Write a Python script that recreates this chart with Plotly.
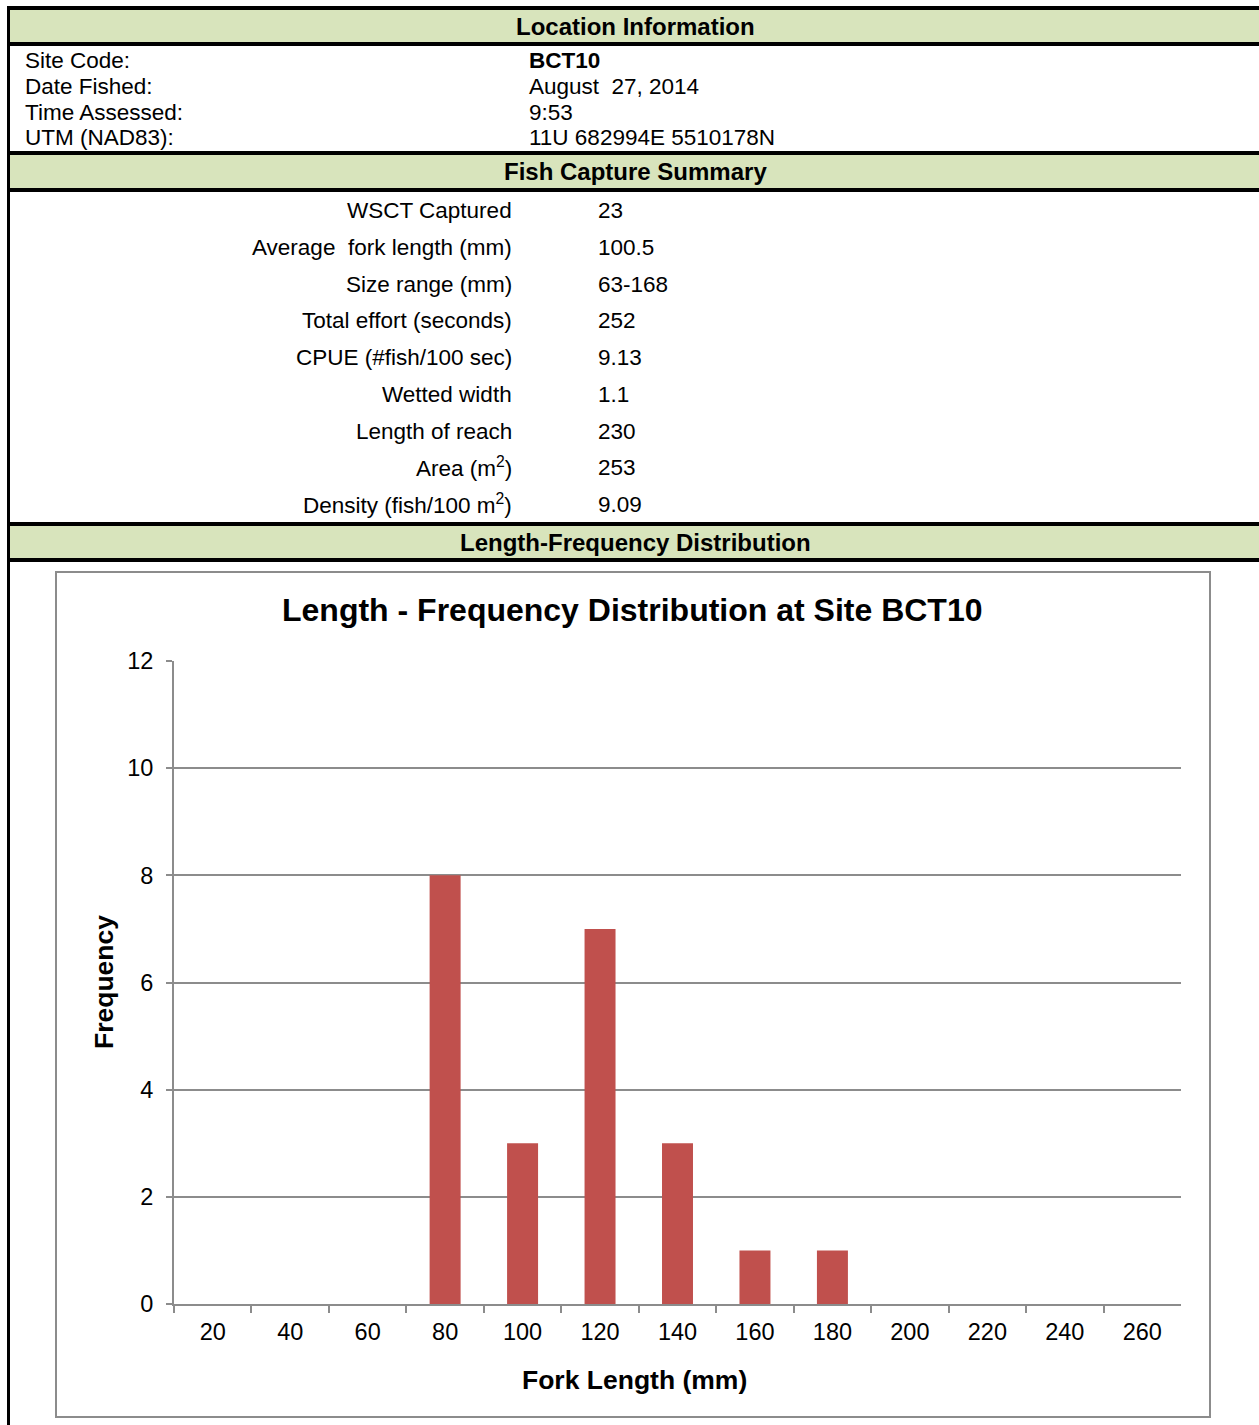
import plotly.graph_objects as go

W, H = 1259, 1425

# ---------------- data ----------------
loc_labels = ["Site Code:", "Date Fished:", "Time Assessed:", "UTM (NAD83):"]
loc_values = ["<b>BCT10</b>", "August  27, 2014", "9:53", "11U 682994E 5510178N"]

sum_labels = ["WSCT Captured", "Average  fork length (mm)", "Size range (mm)",
              "Total effort (seconds)", "CPUE (#fish/100 sec)", "Wetted width",
              "Length of reach", "Area (m<sup>2</sup>)", "Density (fish/100 m<sup>2</sup>)"]
sum_values = ["23", "100.5", "63-168", "252", "9.13", "1.1", "230", "253", "9.09"]

length_bins = ["20", "40", "60", "80", "100", "120", "140", "160", "180",
               "200", "220", "240", "260"]
frequency = [0, 0, 0, 8, 3, 7, 3, 1, 1, 0, 0, 0, 0]

chart_title = "Length - Frequency Distribution at Site BCT10"
x_title = "Fork Length (mm)"
y_title = "Frequency"

FONT = "Arial, Liberation Sans, sans-serif"
GREEN = "#d8e4bc"
GRID = "#8c8c8c"
BAR = "#c0504d"


def px(x):
    return x / W


def py(y):
    return 1 - y / H


fig = go.Figure()
fig.add_trace(go.Bar(x=length_bins, y=frequency, marker=dict(color=BAR, line=dict(width=0)),
                     hoverinfo="x+y"))

shapes = []
annotations = []


def rect(x0, y0, x1, y1, fill, layer="below", line=None):
    d = dict(type="rect", xref="paper", yref="paper", x0=px(x0), x1=px(x1),
             y0=py(y1), y1=py(y0), fillcolor=fill, layer=layer,
             line=line if line else dict(width=0))
    shapes.append(d)


# green header fills
for (a, b) in [(10, 42), (155, 188), (526, 558)]:
    rect(10, a, W, b, GREEN)
# black rules
for (a, b) in [(6, 10), (42, 46), (151, 155), (188, 192), (522, 526), (558, 562)]:
    rect(7, a, W, b, "black", layer="above")
rect(7, 6, 10, H, "black", layer="above")
# chart box
shapes.append(dict(type="rect", xref="paper", yref="paper", x0=px(56), x1=px(1210),
                   y0=py(1417), y1=py(572), fillcolor="rgba(0,0,0,0)", layer="below",
                   line=dict(color=GRID, width=2)))


def text(x, y, s, size=22, bold=False, xanchor="left", color="black", angle=0):
    annotations.append(dict(xref="paper", yref="paper", x=px(x), y=py(y),
                            text=("<b>%s</b>" % s) if bold else s, showarrow=False,
                            xanchor=xanchor, yanchor="middle", textangle=angle,
                            font=dict(family=FONT, size=size, color=color)))


# headers
text(635, 26, "Location Information", size=24, bold=True, xanchor="center")
text(635, 172, "Fish Capture Summary", size=24, bold=True, xanchor="center")
text(635, 543, "Length-Frequency Distribution", size=24, bold=True, xanchor="center")

loc_y = [60, 86, 112, 138]
for lab, val, yy in zip(loc_labels, loc_values, loc_y):
    text(23, yy, lab, size=22.5)
    text(527, yy, val, size=22.5)

sum_y = [210, 247, 284, 320, 357, 394, 431, 467, 504]
for lab, val, yy in zip(sum_labels, sum_values, sum_y):
    text(514, yy, lab, size=22.5, xanchor="right")
    text(596, yy, val, size=22.5)

# chart titles
text(632, 610, chart_title, size=32, bold=True, xanchor="center")
text(634, 1380, x_title, size=26.5, bold=True, xanchor="center")
text(104, 982, y_title, size=26.5, bold=True, xanchor="center", angle=-90)

fig.update_layout(
    width=W, height=H,
    autosize=False,
    margin=dict(l=0, r=0, t=0, b=0, pad=0, autoexpand=False),
    paper_bgcolor="white", plot_bgcolor="white",
    showlegend=False,
    bargap=0.6,
    shapes=shapes,
    annotations=annotations,
    font=dict(family=FONT, color="black"),
    xaxis=dict(domain=[px(174), px(1181)], type="category", tickson="boundaries",
               automargin=False,
               ticks="outside", ticklen=7, tickcolor=GRID, tickwidth=2,
               showline=True, linecolor=GRID, linewidth=2, showgrid=False,
               tickfont=dict(size=23.5, family=FONT, color="black"),
               ticklabelstandoff=6, fixedrange=True),
    yaxis=dict(domain=[py(1304), py(661)], range=[0, 12], dtick=2,
               automargin=False,
               ticks="outside", ticklen=6, tickcolor=GRID, tickwidth=2,
               showline=True, linecolor=GRID, linewidth=2,
               showgrid=True, gridcolor=GRID, gridwidth=1.5, zeroline=False,
               tickfont=dict(size=23.5, family=FONT, color="black"),
               ticklabelstandoff=8, fixedrange=True),
)

fig.write_html(
    "out.html",
    config={"displayModeBar": False},
    post_script="document.body.style.margin='0';document.body.style.padding='0';"
                "document.body.style.overflow='hidden';",
)
